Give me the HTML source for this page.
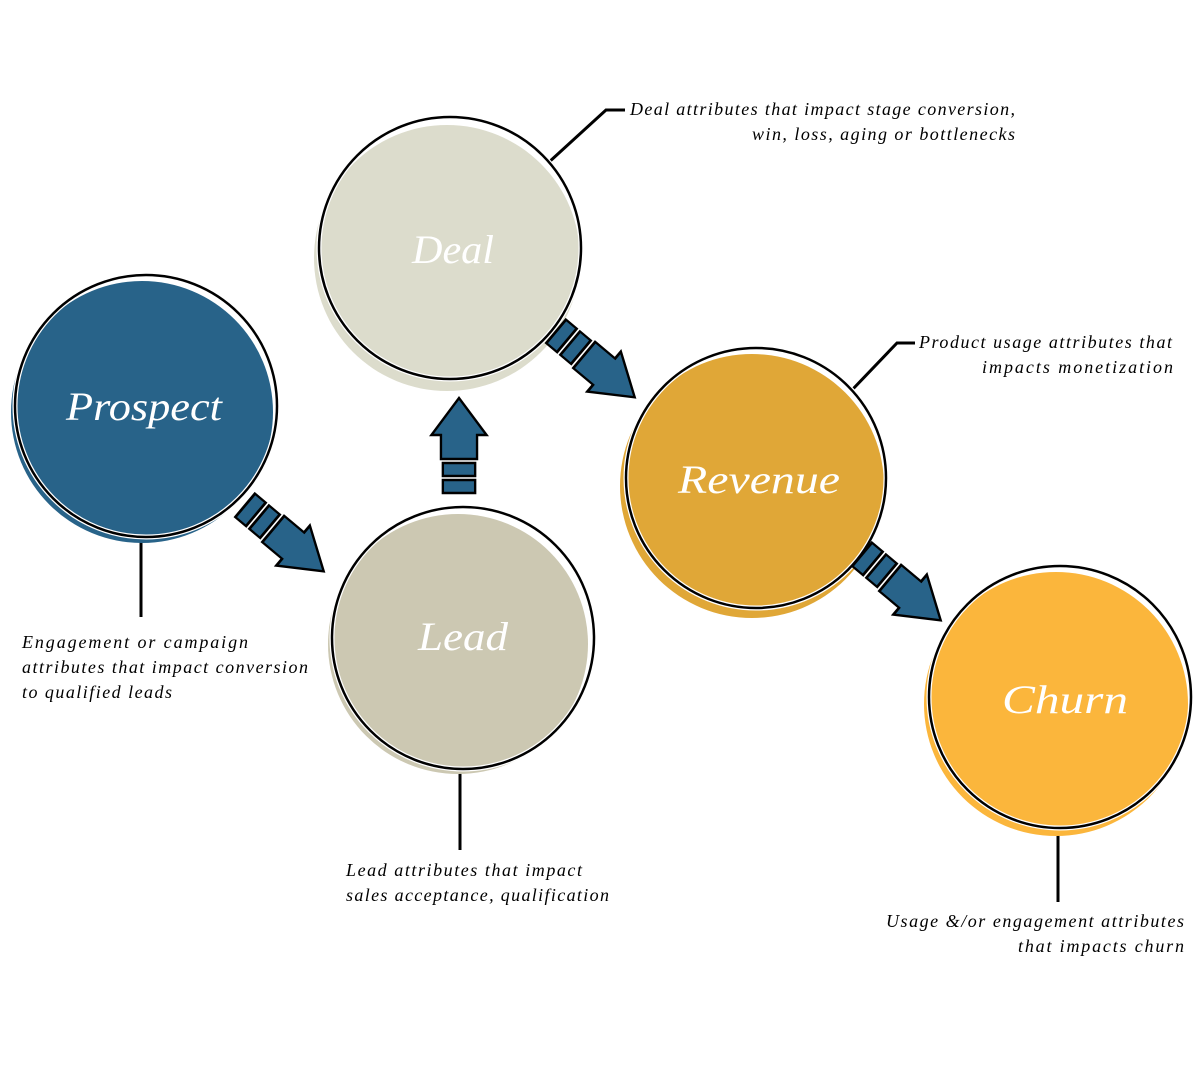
<!DOCTYPE html>
<html><head><meta charset="utf-8"><style>
body{margin:0;background:#fff;}
svg text{font-family:"Liberation Serif",serif;font-style:italic;}
</style></head><body>
<svg width="1199" height="1066" viewBox="0 0 1199 1066" xmlns="http://www.w3.org/2000/svg">
<defs>
<g id="arr">
<g transform="translate(-47,0)">
<rect x="0" y="-17" width="13" height="34" fill="#286389" stroke="#000" stroke-width="2.5"/>
<rect x="17" y="-17" width="13" height="34" fill="#286389" stroke="#000" stroke-width="2.5"/>
<polygon points="34,-19 58,-19 58,-29 95,0 58,29 58,19 34,19" fill="#286389" stroke="#000" stroke-width="2.5" stroke-linejoin="miter"/>
</g>
</g>
</defs>
<g stroke="#000" stroke-width="3" fill="none">
<line x1="141" y1="528" x2="141" y2="617"/>
<polyline points="548,163 606,110 625,110"/>
<polyline points="852,390 897,343 915,343"/>
<line x1="460" y1="762" x2="460" y2="850"/>
<line x1="1058" y1="820" x2="1058" y2="902"/>
</g>
<circle cx="142" cy="412" r="131" fill="#286389"/>
<circle cx="146" cy="406" r="131" fill="none" stroke="#fff" stroke-width="5"/>
<circle cx="146" cy="406" r="131" fill="none" stroke="#000" stroke-width="2.5"/>
<circle cx="447" cy="258" r="133" fill="#dcdccc"/>
<circle cx="450" cy="248" r="131" fill="none" stroke="#fff" stroke-width="5"/>
<circle cx="450" cy="248" r="131" fill="none" stroke="#000" stroke-width="2.5"/>
<circle cx="458" cy="644" r="130" fill="#ccc8b2"/>
<circle cx="463" cy="638" r="131" fill="none" stroke="#fff" stroke-width="5"/>
<circle cx="463" cy="638" r="131" fill="none" stroke="#000" stroke-width="2.5"/>
<circle cx="752" cy="486" r="132" fill="#e0a737"/>
<circle cx="756" cy="478" r="130" fill="none" stroke="#fff" stroke-width="5"/>
<circle cx="756" cy="478" r="130" fill="none" stroke="#000" stroke-width="2.5"/>
<circle cx="1056" cy="704" r="132" fill="#fbb63c"/>
<circle cx="1060" cy="697" r="131" fill="none" stroke="#fff" stroke-width="5"/>
<circle cx="1060" cy="697" r="131" fill="none" stroke="#000" stroke-width="2.5"/>
<use href="#arr" transform="translate(284,538) rotate(40) scale(1.08,0.9)"/>
<use href="#arr" transform="translate(595,364) rotate(40) scale(1.08,0.9)"/>
<use href="#arr" transform="translate(901,587) rotate(40) scale(1.08,0.9)"/>
<use href="#arr" transform="translate(459,446) rotate(-90) scale(1,0.95)"/>
<g fill="#fff" font-size="40">
<text x="66" y="420" textLength="156" lengthAdjust="spacingAndGlyphs">Prospect</text>
<text x="412" y="263" textLength="82" lengthAdjust="spacingAndGlyphs">Deal</text>
<text x="418" y="650" textLength="90" lengthAdjust="spacingAndGlyphs">Lead</text>
<text x="678" y="493" textLength="162" lengthAdjust="spacingAndGlyphs">Revenue</text>
<text x="1002" y="713" textLength="126" lengthAdjust="spacingAndGlyphs">Churn</text>
</g>
<g fill="#000" font-size="18">
<text x="22" y="648" textLength="226">Engagement or campaign</text>
<text x="22" y="673" textLength="286">attributes that impact conversion</text>
<text x="22" y="698" textLength="150">to qualified leads</text>
<text x="346" y="876" textLength="236">Lead attributes that impact</text>
<text x="346" y="901" textLength="263">sales acceptance, qualification</text>
<text x="630" y="115" textLength="385">Deal attributes that impact stage conversion,</text>
<text x="752" y="140" textLength="263">win, loss, aging or bottlenecks</text>
<text x="919" y="348" textLength="253">Product usage attributes that</text>
<text x="982" y="373" textLength="191">impacts monetization</text>
<text x="886" y="927" textLength="298">Usage &amp;/or engagement attributes</text>
<text x="1018" y="952" textLength="166">that impacts churn</text>
</g>
</svg>
</body></html>
